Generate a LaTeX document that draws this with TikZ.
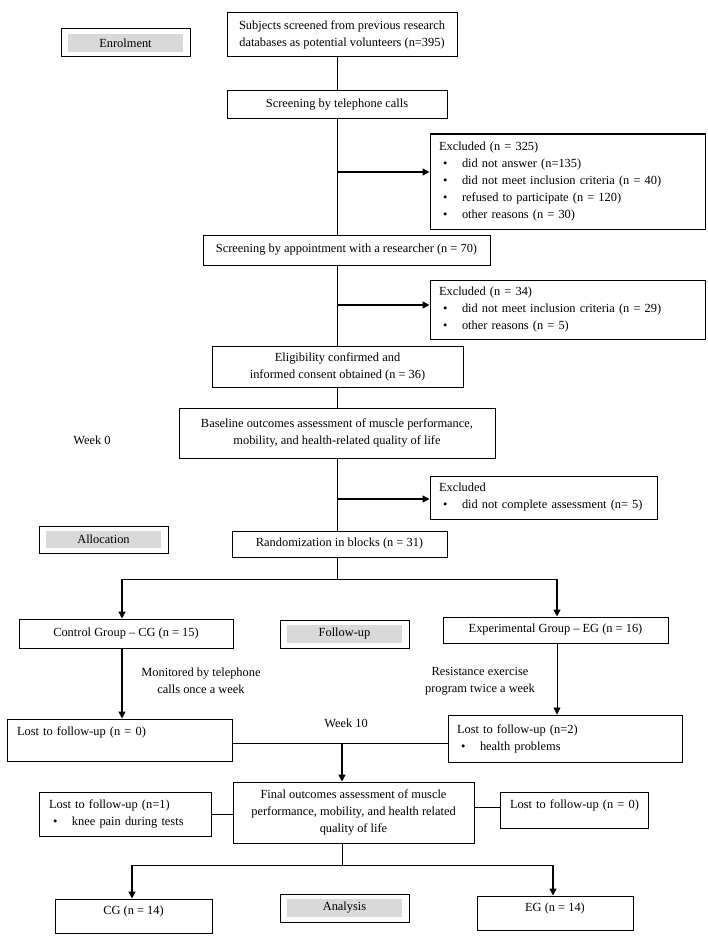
\documentclass[tikz,border=0pt]{standalone}
\usepackage{fontspec}
\setmainfont{Liberation Serif}
\usetikzlibrary{arrows.meta}
\definecolor{lblgray}{RGB}{217,217,217}
\newcommand\bitem[1]{\makebox[23pt][l]{\hspace{4pt}\textbullet}#1}
\newcommand\upby[2]{\raisebox{#1}[\height][\depth]{#2}}
\tikzset{
 box/.style={draw, line width=1pt, inner sep=0pt, align=center},
 lbox/.style={draw, line width=1pt, inner xsep=9pt, inner ysep=0pt, align=left},
 tagbox/.style={draw, line width=1pt, inner sep=0pt, path picture={\fill[lblgray] ([shift={(7pt,-5pt)}]path picture bounding box.north west) rectangle ([shift={(-7pt,5pt)}]path picture bounding box.south east);}},
 conn/.style={line width=1pt},
 arr/.style={line width=1.4pt, -{Triangle[length=7pt,width=7pt]}},
 thinarr/.style={line width=0.8pt, -{Triangle[length=7pt,width=7pt]}},
 plain/.style={inner sep=0pt, align=center},
}
\begin{document}
\begin{tikzpicture}[x=1pt,y=-1pt,font=\fontsize{12.4}{17}\selectfont]
\useasboundingbox (0,0) rectangle (708,947);
% label boxes
\node[tagbox, minimum width=129pt, minimum height=28pt] (enrol) at (125.5,43) {Enrolment};
\node[tagbox, minimum width=129pt, minimum height=27pt] (alloc) at (103.5,539.5) {Allocation};
\node[tagbox, minimum width=129pt, minimum height=28pt] (fu) at (344.5,634) {Follow-up};
\node[tagbox, minimum width=129pt, minimum height=28pt] (an) at (344.5,908) {Analysis};
% main boxes
\node[box, minimum width=230pt, minimum height=44pt] (top) at (342,35) {Subjects screened from previous research\\databases as potential volunteers (n=395)};
\node[box, minimum width=220pt, minimum height=28pt] (tel) at (337,105) {Screening by telephone calls};
\node[lbox, text width=257pt, minimum height=95pt] (ex1) at (567.5,181.5) {Excluded (n = 325)\\\bitem{did not answer (n=135)}\\\bitem{did not meet inclusion criteria (n = 40)}\\\bitem{refused to participate (n = 120)}\\\bitem{other reasons (n = 30)}};
\node[box, minimum width=287pt, minimum height=30pt] (appt) at (346.5,250) {Screening by appointment with a researcher (n = 70)};
\node[lbox, text width=257pt, minimum height=59pt] (ex2) at (567.5,309.5) {Excluded (n = 34)\\\bitem{did not meet inclusion criteria (n = 29)}\\\bitem{other reasons (n = 5)}};
\node[box, minimum width=251pt, minimum height=41pt] (elig) at (337.5,366.5) {Eligibility confirmed and\\informed consent obtained (n = 36)};
\node[box, minimum width=316pt, minimum height=50pt] (base) at (337,433) {Baseline outcomes assessment of muscle performance,\\mobility, and health-related quality of life};
\node[plain] (wk0) at (92,440) {Week 0};
\node[lbox, text width=209pt, minimum height=43pt] (ex3) at (543.5,497.5) {Excluded\\\bitem{did not complete assessment (n= 5)}};
\node[box, minimum width=215pt, minimum height=26pt] (rand) at (339.5,544) {Randomization in blocks (n = 31)};
\node[box, minimum width=214pt, minimum height=29pt] (cg) at (126,633.5) {Control Group -- CG (n = 15)};
\node[box, minimum width=225pt, minimum height=26pt] (eg) at (555.5,630) {Experimental Group -- EG (n = 16)};
\node[plain] (mon) at (201,681) {Monitored by telephone\\calls once a week};
\node[plain] (res) at (480,681) {Resistance exercise\\program twice a week};
\node[lbox, inner xsep=10pt, text width=205pt, minimum height=42pt] (lostcg) at (119.5,740) {Lost to follow-up (n = 0)\\\mbox{}};
\node[plain] (wk10) at (346,723) {Week 10};
\node[lbox, text width=216pt, minimum height=47pt] (losteg) at (565,738.5) {Lost to follow-up (n=2)\\\bitem{health problems}};
\node[box, minimum width=241pt, minimum height=61pt] (final) at (353.5,812.5) {Final outcomes assessment of muscle\\performance, mobility, and health related\\quality of life};
\node[lbox, inner xsep=10pt, text width=152pt, minimum height=44pt] (lostl) at (125,814) {Lost to follow-up (n=1)\\\bitem{knee pain during tests}};
\node[lbox, inner xsep=10pt, text width=128pt, minimum height=36pt] (lostr) at (574,810) {\upby{5pt}{Lost to follow-up (n = 0)}};
\node[box, minimum width=157pt, minimum height=34pt] (cg14) at (133.5,916) {\upby{4pt}{CG (n = 14)}};
\node[box, minimum width=156pt, minimum height=34pt] (eg14) at (555,913) {\upby{4pt}{EG (n = 14)}};
% junctions
\coordinate (j1) at (337,172);
\coordinate (j2) at (337,305);
\coordinate (j3) at (337,499);
\coordinate (s1) at (337,579);
\coordinate (s1l) at ([xshift=-4pt]cg.north |- s1);
\coordinate (s1r) at ([xshift=1.5pt]eg.north |- s1);
\coordinate (j4) at (342,743);
\coordinate (s2) at (342,865);
\coordinate (s2l) at ([xshift=-1.5pt]cg14.north |- s2);
\coordinate (s2r) at ([xshift=-2pt]eg14.north |- s2);
% connectors
\draw[conn] (top.south -| tel.north) -- (tel.north);
\draw[conn] (tel.south) -- (tel.south |- appt.north);
\draw[arr] (j1) -- (j1 -| ex1.west);
\draw[conn] (elig.north |- appt.south) -- (elig.north);
\draw[arr] (j2) -- (j2 -| ex2.west);
\draw[conn] (elig.south -| base.north) -- (base.north);
\draw[conn] (base.south) -- (base.south |- rand.north);
\draw[arr] (j3) -- (j3 -| ex3.west);
\draw[conn] (s1 |- rand.south) -- (s1);
\draw[conn] (s1l) -- (s1r);
\draw[arr] (s1l) -- (s1l |- cg.north);
\draw[arr] (s1r) -- (s1r |- eg.north);
\draw[arr] ([xshift=-4pt]cg.south) -- ([xshift=-4pt]cg.south |- lostcg.north);
\draw[thinarr] ([xshift=1.5pt]eg.south) -- ([xshift=1.5pt]eg.south |- losteg.north);
\draw[conn] (lostcg.east |- j4) -- (losteg.west |- j4);
\draw[arr] (j4) -- (j4 |- final.north);
\draw[conn] (lostl.east) -- (lostl.east -| final.west);
\draw[conn] ([yshift=3pt]lostr.west) -- ([yshift=3pt]lostr.west -| final.east);
\draw[conn] (s2 |- final.south) -- (s2);
\draw[conn] (s2l) -- (s2r);
\draw[arr] (s2l) -- (s2l |- cg14.north);
\draw[arr] (s2r) -- (s2r |- eg14.north);
\end{tikzpicture}
\end{document}
